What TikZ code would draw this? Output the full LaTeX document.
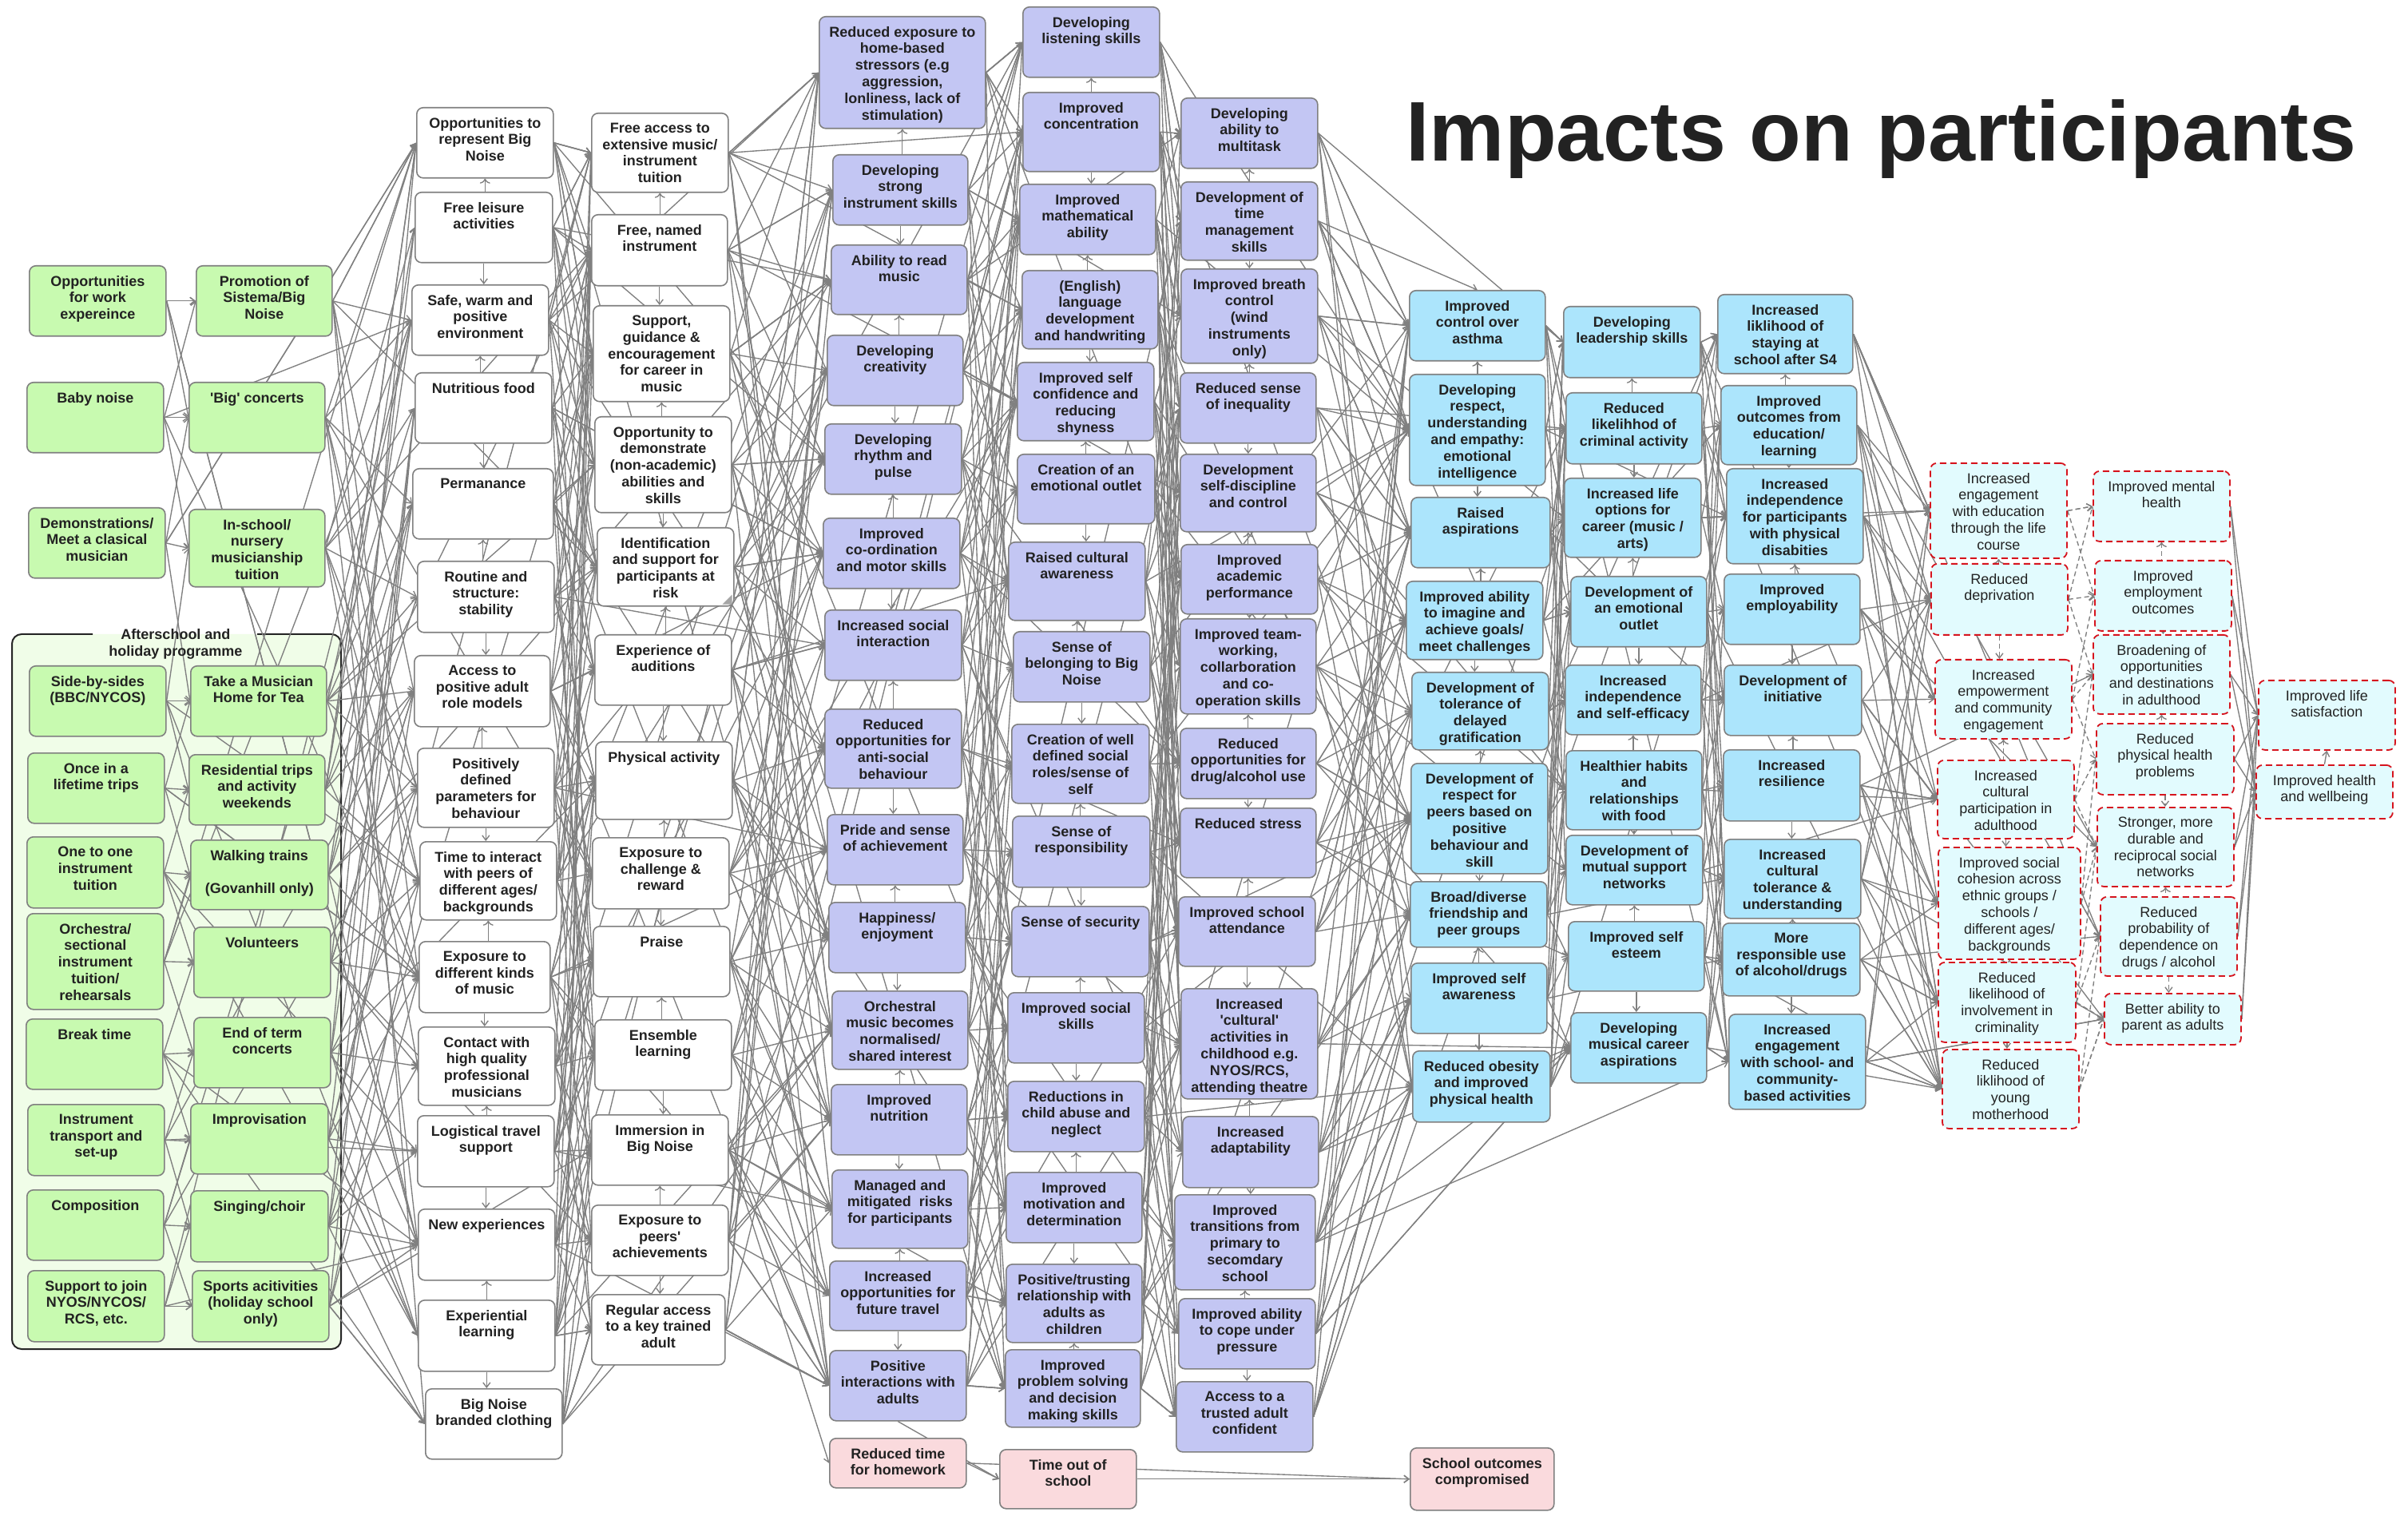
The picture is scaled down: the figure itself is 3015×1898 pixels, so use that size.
\documentclass[tikz,border=0pt]{standalone}
\usepackage{fontspec}
\setmainfont{Liberation Sans}
\usetikzlibrary{arrows.meta}
\definecolor{grnc}{RGB}{200,250,176}
\definecolor{contc}{RGB}{240,253,232}
\definecolor{purc}{RGB}{195,198,243}
\definecolor{bluc}{RGB}{172,229,252}
\definecolor{dshc}{RGB}{226,251,254}
\definecolor{pnkc}{RGB}{250,218,221}
\definecolor{redc}{RGB}{214,20,30}
\definecolor{bordc}{RGB}{128,128,128}
\definecolor{edgec}{RGB}{128,128,128}
\definecolor{txtc}{RGB}{34,34,34}
\pgfdeclarelayer{bgA}
\pgfdeclarelayer{bgB}
\pgfsetlayers{bgA,bgB,main}
\tikzset{
  nbox/.style={draw=bordc, line width=0.8pt, rounded corners=4pt, inner sep=0pt},
  ngrn/.style={nbox, fill=grnc},
  nwht/.style={nbox, fill=white},
  npur/.style={nbox, fill=purc},
  nblu/.style={nbox, fill=bluc},
  npnk/.style={nbox, fill=pnkc},
  ndsh/.style={nbox, fill=dshc, draw=redc, dash pattern=on 4pt off 2.5pt, line width=0.9pt},
  lbl/.style={align=center, inner sep=0pt, text=txtc, font={\fontsize{9}{10.4}\selectfont\bfseries}},
  lblr/.style={align=center, inner sep=0pt, text=txtc, font={\fontsize{9}{10.4}\selectfont}},
  conn/.style={draw=edgec, line width=0.68pt, -{Straight Barb[length=3pt,width=4.5pt]}},
  dconn/.style={conn, dash pattern=on 3pt off 2pt},
}
% name, style, x-left, y-top, width, height, text  (pixel units)
\newcommand\nd[7]{%
  \node[#2, minimum width=#5*0.5pt, minimum height=#6*0.5pt, anchor=north west] (#1) at (#3,#4) {};
  \node[lbl, anchor=north] at ([yshift=-6.3pt]#1.north) {#7};}
\newcommand\ndr[7]{%
  \node[#2, minimum width=#5*0.5pt, minimum height=#6*0.5pt, anchor=north west] (#1) at (#3,#4) {};
  \node[lblr, anchor=north] at ([yshift=-6.3pt]#1.north) {#7};}
\newcommand\webnear[6][conn]{%
  \foreach \i in {1,...,#3}{%
    \foreach \o in {#6}{%
      \pgfmathtruncatemacro\j{max(1,min(#5,round((\i-0.5)*#5/#3+0.5+(\o))))}%
      \draw[#1] (#2\i.east) -- (#4\j.west);}}}
\newcommand\webrand[5]{%
  \foreach \i in {1,...,#2}{%
    \foreach \k in {1,...,#5}{%
      \pgfmathtruncatemacro\j{random(1,#4)}%
      \draw[conn] (#1\i.east) -- (#3\j.west);}}}
\newcommand\spine[3][conn]{%
  \foreach \i in {2,...,#3}{%
    \pgfmathtruncatemacro\h{\i-1}%
    \ifodd\i\relax
      \draw[#1] (#2\h.south) -- (#2\h.south |- #2\i.north);
    \else
      \draw[#1, <-] (#2\h.south) -- (#2\h.south |- #2\i.north);
    \fi}}
\begin{document}
\begin{tikzpicture}[x=0.5pt,y=-0.5pt]
\pgfmathsetseed{7}
\useasboundingbox (0,0) rectangle (3015,1898);

% ---------- title
\node[anchor=base west, inner sep=0pt, text=txtc, font={\fontsize{53}{60}\selectfont\bfseries}] (title) at (1760,202) {Impacts on participants};

% ---------- background and container
\begin{pgfonlayer}{bgA}
\fill[white] (0,0) rectangle (3015,1898);
\fill[contc, rounded corners=6pt] (15,794) rectangle (427,1689);
\draw[black!85, line width=1pt, rounded corners=6pt] (116,794) -- (15,794) -- (15,1689) -- (427,1689) -- (427,794) -- (322,794);
\end{pgfonlayer}
\node[lbl] (aslabel) at (220,806) {Afterschool and\\holiday programme};

% ---------- column A
\nd{A1}{ngrn}{36}{332}{171}{88}{Opportunities\\for work\\expereince}
\nd{A2}{ngrn}{33}{478}{171}{88}{Baby noise}
\nd{A3}{ngrn}{35}{635}{171}{88}{Demonstrations/\\Meet a clasical\\musician}
\nd{A4}{ngrn}{36}{833}{171}{88}{Side-by-sides\\(BBC/NYCOS)}
\nd{A5}{ngrn}{34}{942}{171}{88}{Once in a\\lifetime trips}
\nd{A6}{ngrn}{33}{1047}{171}{89}{One to one\\instrument\\tuition}
\nd{A7}{ngrn}{33}{1143}{171}{120}{Orchestra/\\sectional\\instrument\\tuition/\\rehearsals}
\nd{A8}{ngrn}{32}{1275}{171}{88}{Break time}
\nd{A9}{ngrn}{34}{1382}{171}{89}{Instrument\\transport and\\set-up}
\nd{A10}{ngrn}{33}{1489}{171}{88}{Composition}
\nd{A11}{ngrn}{34}{1590}{171}{89}{Support to join\\NYOS/NYCOS/\\RCS, etc.}

% ---------- column B
\nd{B1}{ngrn}{245}{332}{170}{88}{Promotion of\\Sistema/Big\\Noise}
\nd{B2}{ngrn}{236}{478}{170}{88}{\textquotesingle Big\textquotesingle{} concerts}
\nd{B3}{ngrn}{236}{637}{170}{97}{In-school/\\nursery\\musicianship\\tuition}
\nd{B4}{ngrn}{238}{833}{170}{88}{Take a Musician\\Home for Tea}
\nd{B5}{ngrn}{236}{944}{170}{88}{Residential trips\\and activity\\weekends}
\nd{B6}{ngrn}{238}{1051}{172}{87}{Walking trains\\[10.5pt](Govanhill only)}
\nd{B7}{ngrn}{242}{1160}{171}{88}{Volunteers}
\nd{B8}{ngrn}{242}{1273}{171}{88}{End of term\\concerts}
\nd{B9}{ngrn}{238}{1381}{172}{88}{Improvisation}
\nd{B10}{ngrn}{238}{1490}{172}{89}{Singing/choir}
\nd{B11}{ngrn}{240}{1590}{171}{89}{Sports acitivities\\(holiday school\\only)}

% ---------- column C
\nd{C1}{nwht}{521}{134}{171}{88}{Opportunities to\\represent Big\\Noise}
\nd{C2}{nwht}{519}{240}{172}{88}{Free leisure\\activities}
\nd{C3}{nwht}{515}{356}{171}{88}{Safe, warm and\\positive\\environment}
\nd{C4}{nwht}{519}{466}{171}{88}{Nutritious food}
\nd{C5}{nwht}{516}{586}{176}{88}{Permanance}
\nd{C6}{nwht}{522}{702}{171}{89}{Routine and\\structure:\\stability}
\nd{C7}{nwht}{518}{820}{170}{89}{Access to\\positive adult\\role models}
\nd{C8}{nwht}{522}{936}{171}{99}{Positively\\defined\\parameters for\\behaviour}
\nd{C9}{nwht}{525}{1053}{171}{98}{Time to interact\\with peers of\\different ages/\\backgrounds}
\nd{C10}{nwht}{524}{1178}{164}{89}{Exposure to\\different kinds\\of music}
\nd{C11}{nwht}{523}{1285}{171}{98}{Contact with\\high quality\\professional\\musicians}
\nd{C12}{nwht}{522}{1396}{171}{89}{Logistical travel\\support}
\nd{C13}{nwht}{523}{1513}{171}{89}{New experiences}
\nd{C14}{nwht}{523}{1627}{171}{89}{Experiential\\learning}
\nd{C15}{nwht}{532}{1738}{171}{88}{Big Noise\\branded clothing}

% ---------- column D
\nd{D1}{nwht}{740}{141}{171}{99}{Free access to\\extensive music/\\instrument\\tuition}
\nd{D2}{nwht}{740}{268}{170}{89}{Free, named\\instrument}
\nd{D3}{nwht}{742}{382}{171}{120}{Support,\\guidance \&\\encouragement\\for career in\\music}
\nd{D4}{nwht}{744}{521}{171}{120}{Opportunity to\\demonstrate\\(non-academic)\\abilities and\\skills}
\nd{D5}{nwht}{747}{660}{171}{98}{Identification\\and support for\\participants at\\risk}
\nd{D6}{nwht}{744}{794}{171}{88}{Experience of\\auditions}
\nd{D7}{nwht}{745}{928}{171}{97}{Physical activity}
\nd{D8}{nwht}{741}{1048}{171}{89}{Exposure to\\challenge \&\\reward}
\nd{D9}{nwht}{742}{1159}{171}{88}{Praise}
\nd{D10}{nwht}{744}{1276}{171}{88}{Ensemble\\learning}
\nd{D11}{nwht}{740}{1395}{171}{88}{Immersion in\\Big Noise}
\nd{D12}{nwht}{740}{1508}{171}{88}{Exposure to\\peers\textquotesingle\\achievements}
\nd{D13}{nwht}{740}{1620}{167}{88}{Regular access\\to a key trained\\adult}
\fill[bordc!70] ([xshift=-1.5pt,yshift=1.5pt]D5.south east) -- ++(-6pt,0) -- ++(6pt,6pt) -- cycle;

% ---------- column E
\nd{E1}{npur}{1025}{20}{208}{140}{Reduced exposure to\\home-based\\stressors (e.g\\aggression,\\lonliness, lack of\\stimulation)}
\nd{E2}{npur}{1042}{193}{169}{88}{Developing\\strong\\instrument skills}
\nd{E3}{npur}{1040}{306}{170}{87}{Ability to read\\music}
\nd{E4}{npur}{1035}{419}{170}{88}{Developing\\creativity}
\nd{E5}{npur}{1032}{530}{171}{88}{Developing\\rhythm and\\pulse}
\nd{E6}{npur}{1030}{648}{171}{88}{Improved\\co-ordination\\and motor skills}
\nd{E7}{npur}{1032}{763}{171}{88}{Increased social\\interaction}
\nd{E8}{npur}{1032}{887}{171}{99}{Reduced\\opportunities for\\anti-social\\behaviour}
\nd{E9}{npur}{1035}{1019}{170}{88}{Pride and sense\\of achievement}
\nd{E10}{npur}{1037}{1129}{171}{88}{Happiness/\\enjoyment}
\nd{E11}{npur}{1041}{1240}{170}{98}{Orchestral\\music becomes\\normalised/\\shared interest}
\nd{E12}{npur}{1040}{1357}{170}{88}{Improved\\nutrition}
\nd{E13}{npur}{1041}{1464}{170}{98}{Managed and\\mitigated\ \ risks\\for participants}
\nd{E14}{npur}{1038}{1578}{171}{87}{Increased\\opportunities for\\future travel}
\nd{E15}{npur}{1038}{1690}{171}{88}{Positive\\interactions with\\adults}
\nd{P1}{npnk}{1038}{1800}{171}{62}{Reduced time\\for homework}

% ---------- column F
\nd{F1}{npur}{1280}{8}{171}{88}{Developing\\listening skills}
\nd{F2}{npur}{1280}{115}{171}{99}{Improved\\concentration}
\nd{F3}{npur}{1276}{230}{170}{88}{Improved\\mathematical\\ability}
\nd{F4}{npur}{1279}{338}{170}{98}{(English)\\language\\development\\and handwriting}
\nd{F5}{npur}{1273}{453}{171}{98}{Improved self\\confidence and\\reducing\\shyness}
\nd{F6}{npur}{1273}{568}{172}{87}{Creation of an\\emotional outlet}
\nd{F7}{npur}{1262}{678}{171}{98}{Raised cultural\\awareness}
\nd{F8}{npur}{1268}{790}{171}{88}{Sense of\\belonging to Big\\Noise}
\nd{F9}{npur}{1266}{906}{172}{99}{Creation of well\\defined social\\roles/sense of\\self}
\nd{F10}{npur}{1267}{1021}{172}{89}{Sense of\\responsibility}
\nd{F11}{npur}{1266}{1134}{172}{88}{Sense of security}
\nd{F12}{npur}{1261}{1242}{171}{88}{Improved social\\skills}
\nd{F13}{npur}{1261}{1353}{171}{88}{Reductions in\\child abuse and\\neglect}
\nd{F14}{npur}{1259}{1467}{170}{88}{Improved\\motivation and\\determination}
\nd{F15}{npur}{1259}{1582}{170}{98}{Positive/trusting\\relationship with\\adults as\\children}
\nd{F16}{npur}{1258}{1689}{169}{97}{Improved\\problem solving\\and decision\\making skills}
\nd{P2}{npnk}{1251}{1814}{171}{74}{Time out of\\school}

% ---------- column G
\nd{G1}{npur}{1478}{122}{171}{88}{Developing\\ability to\\multitask}
\nd{G2}{npur}{1478}{227}{171}{98}{Development of\\time\\management\\skills}
\nd{G3}{npur}{1478}{336}{171}{118}{Improved breath\\control\\(wind\\instruments\\only)}
\nd{G4}{npur}{1477}{466}{170}{88}{Reduced sense\\of inequality}
\nd{G5}{npur}{1477}{568}{170}{97}{Development\\self-discipline\\and control}
\nd{G6}{npur}{1478}{681}{171}{87}{Improved\\academic\\performance}
\nd{G7}{npur}{1477}{774}{170}{119}{Improved team-\\working,\\collarboration\\and co-\\operation skills}
\nd{G8}{npur}{1477}{911}{170}{88}{Reduced\\opportunities for\\drug/alcohol use}
\nd{G9}{npur}{1477}{1011}{170}{87}{Reduced stress}
\nd{G10}{npur}{1475}{1122}{171}{87}{Improved school\\attendance}
\nd{G11}{npur}{1478}{1237}{171}{138}{Increased\\\textquotesingle cultural\textquotesingle\\activities in\\childhood e.g.\\NYOS/RCS,\\attending theatre}
\nd{G12}{npur}{1480}{1397}{170}{89}{Increased\\adaptability}
\nd{G13}{npur}{1470}{1495}{176}{119}{Improved\\transitions from\\primary to\\secomdary\\school}
\nd{G14}{npur}{1475}{1625}{171}{88}{Improved ability\\to cope under\\pressure}
\nd{G15}{npur}{1472}{1729}{171}{88}{Access to a\\trusted adult\\confident}

% ---------- column H
\nd{H1}{nblu}{1764}{363}{170}{88}{Improved\\control over\\asthma}
\nd{H2}{nblu}{1764}{468}{170}{139}{Developing\\respect,\\understanding\\and empathy:\\emotional\\intelligence}
\nd{H3}{nblu}{1766}{622}{174}{88}{Raised\\aspirations}
\nd{H4}{nblu}{1760}{727}{171}{98}{Improved ability\\to imagine and\\achieve goals/\\meet challenges}
\nd{H5}{nblu}{1767}{841}{171}{97}{Development of\\tolerance of\\delayed\\gratification}
\nd{H6}{nblu}{1766}{955}{171}{138}{Development of\\respect for\\peers based on\\positive\\behaviour and\\skill}
\nd{H7}{nblu}{1765}{1103}{171}{82}{Broad/diverse\\friendship and\\peer groups}
\nd{H8}{nblu}{1766}{1205}{170}{88}{Improved self\\awareness}
\nd{H9}{nblu}{1768}{1315}{172}{89}{Reduced obesity\\and improved\\physical health}
\nd{P3}{npnk}{1765}{1812}{180}{78}{School outcomes\\compromised}

% ---------- column I
\nd{I1}{nblu}{1957}{383}{171}{89}{Developing\\leadership skills}
\nd{I2}{nblu}{1960}{491}{170}{89}{Reduced\\likelihhod of\\criminal activity}
\nd{I3}{nblu}{1958}{598}{171}{99}{Increased life\\options for\\career (music /\\arts)}
\nd{I4}{nblu}{1966}{721}{170}{88}{Development of\\an emotional\\outlet}
\nd{I5}{nblu}{1959}{832}{170}{87}{Increased\\independence\\and self-efficacy}
\nd{I6}{nblu}{1960}{939}{170}{99}{Healthier habits\\and\\relationships\\with food}
\nd{I7}{nblu}{1960}{1045}{171}{87}{Development of\\mutual support\\networks}
\nd{I8}{nblu}{1963}{1153}{170}{87}{Improved self\\esteem}
\nd{I9}{nblu}{1966}{1267}{170}{88}{Developing\\musical career\\aspirations}

% ---------- column J
\nd{J1}{nblu}{2150}{368}{169}{99}{Increased\\liklihood of\\staying at\\school after S4}
\nd{J2}{nblu}{2154}{482}{170}{99}{Improved\\outcomes from\\education/\\learning}
\nd{J3}{nblu}{2161}{586}{171}{119}{Increased\\independence\\for participants\\with physical\\disabities}
\nd{J4}{nblu}{2158}{718}{170}{88}{Improved\\employability}
\nd{J5}{nblu}{2158}{832}{172}{88}{Development of\\initiative}
\nd{J6}{nblu}{2157}{938}{171}{89}{Increased\\resilience}
\nd{J7}{nblu}{2158}{1050}{171}{99}{Increased\\cultural\\tolerance \&\\understanding}
\nd{J8}{nblu}{2156}{1155}{172}{91}{More\\responsible use\\of alcohol/drugs}
\nd{J9}{nblu}{2164}{1269}{171}{119}{Increased\\engagement\\with school- and\\community-\\based activities}

% ---------- column K
\ndr{K1}{ndsh}{2416}{579}{171}{119}{Increased\\engagement\\with education\\through the life\\course}
\ndr{K2}{ndsh}{2417}{705}{171}{89}{Reduced\\deprivation}
\ndr{K3}{ndsh}{2422}{825}{171}{99}{Increased\\empowerment\\and community\\engagement}
\ndr{K4}{ndsh}{2425}{951}{171}{98}{Increased\\cultural\\participation in\\adulthood}
\ndr{K5}{ndsh}{2426}{1060}{178}{140}{Improved social\\cohesion across\\ethnic groups /\\schools /\\different ages/\\backgrounds}
\ndr{K6}{ndsh}{2426}{1204}{172}{100}{Reduced\\likelihood of\\involvement in\\criminality}
\ndr{K7}{ndsh}{2431}{1313}{171}{99}{Reduced\\liklihood of\\young\\motherhood}

% ---------- column L
\ndr{L1}{ndsh}{2620}{589}{171}{88}{Improved mental\\health}
\ndr{L2}{ndsh}{2622}{701}{171}{88}{Improved\\employment\\outcomes}
\ndr{L3}{ndsh}{2620}{794}{171}{99}{Broadening of\\opportunities\\and destinations\\in adulthood}
\ndr{L4}{ndsh}{2624}{905}{172}{89}{Reduced\\physical health\\problems}
\ndr{L5}{ndsh}{2625}{1010}{171}{99}{Stronger, more\\durable and\\reciprocal social\\networks}
\ndr{L6}{ndsh}{2629}{1122}{171}{99}{Reduced\\probability of\\dependence on\\drugs / alcohol}
\ndr{L7}{ndsh}{2634}{1243}{171}{64}{Better ability to\\parent as adults}

% ---------- column M
\ndr{M1}{ndsh}{2827}{851}{171}{87}{Improved life\\satisfaction}
\ndr{M2}{ndsh}{2824}{957}{171}{67}{Improved health\\and wellbeing}

% ---------- connectors
\begin{pgfonlayer}{bgB}
\webnear{A}{11}{B}{11}{-1,0,1}
\webrand{A}{11}{C}{15}{2}
\webnear{B}{11}{C}{15}{-2,0,2}
\webrand{B}{11}{C}{15}{3}
\webrand{B}{11}{D}{13}{1}
\webnear{C}{15}{D}{13}{-2,-1,0,1,2}
\webrand{C}{15}{D}{13}{2}
\webrand{C}{15}{E}{15}{2}
\webnear{D}{13}{E}{15}{-2,0,1,3}
\webrand{D}{13}{E}{15}{3}
\webrand{D}{13}{F}{16}{1}
\webnear{E}{15}{F}{16}{-2,-1,0,1,2}
\webrand{E}{15}{F}{16}{2}
\webrand{E}{15}{G}{15}{1}
\webnear{F}{16}{G}{15}{-2,0,1,2}
\webrand{F}{16}{G}{15}{2}
\webrand{F}{16}{H}{9}{1}
\webnear{G}{15}{H}{9}{-1,0,1}
\webrand{G}{15}{H}{9}{2}
\webrand{G}{15}{I}{9}{1}
\webnear{H}{9}{I}{9}{-1,0,1}
\webrand{H}{9}{I}{9}{2}
\webrand{H}{9}{J}{9}{1}
\webnear{I}{9}{J}{9}{-1,0,1}
\webrand{I}{9}{J}{9}{2}
\webrand{I}{9}{K}{7}{1}
\webnear{J}{9}{K}{7}{-1,0,1}
\webrand{J}{9}{K}{7}{2}
\webrand{J}{9}{L}{7}{1}
\webnear[dconn]{K}{7}{L}{7}{-1,0,1}
\foreach \i in {1,...,7}{\draw[conn] (L\i.east) -- (M1.west); \draw[conn] (L\i.east) -- (M2.west);}
\spine{C}{15}
\spine{D}{13}
\spine{E}{15}
\spine{F}{16}
\spine{G}{15}
\spine{H}{9}
\spine{I}{9}
\spine{J}{9}
\spine[dconn]{K}{7}
\spine[dconn]{L}{7}
\draw[conn] (M2.north) -- (M1.south);
\draw[conn] (D11.east) -- (P1.west);
\draw[conn] (E15.south) -- (P2.west);
\draw[conn] (P1.east) -- (P2.west);
\draw[conn] (P2.east) -- (P3.west);
\draw[conn] (P1.east) -- (P3.west);
\draw[conn] (G13.east) -- (J9.west);
\draw[conn] (G13.east) -- (I9.west);
\draw[conn] (G14.east) -- (I9.west);
\draw[conn] (G12.east) -- (H9.west);
\draw[conn] (J9.east) -- (L7.west);
\draw[conn] (G2.east) -- (H1.north);
\draw[conn] (G3.east) -- (H1.west);
\draw[conn] (E1.east) -- (F1.west);
\draw[conn] (D1.east) -- (F2.west);
\end{pgfonlayer}
\end{tikzpicture}
\end{document}
